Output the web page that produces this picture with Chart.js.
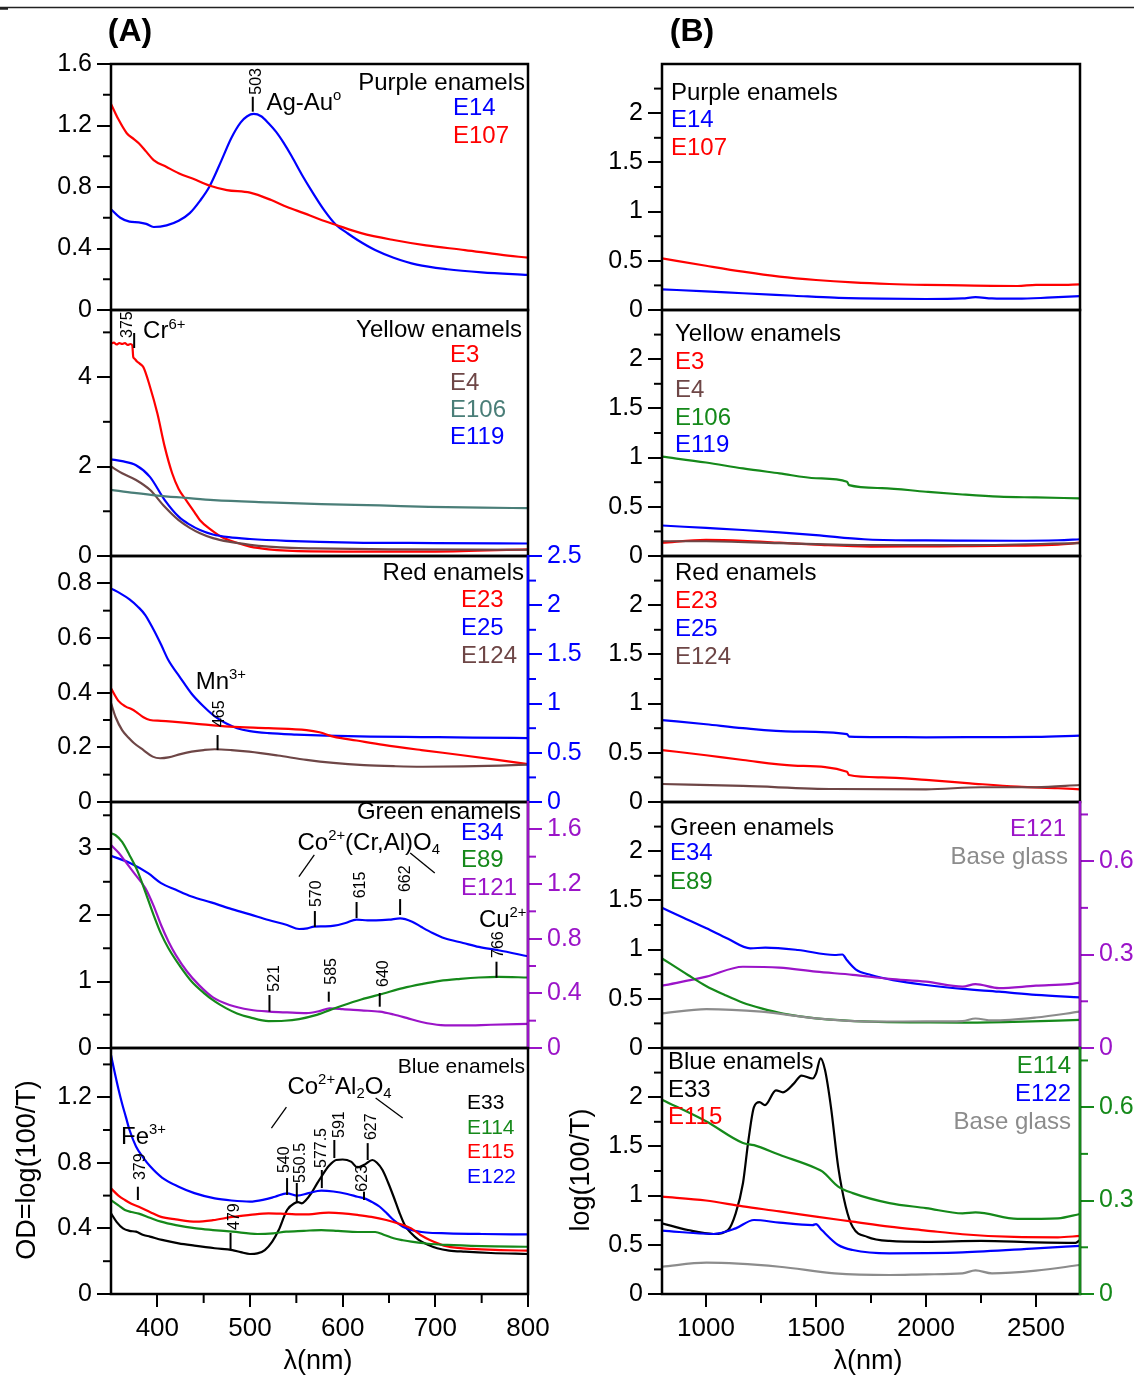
<!DOCTYPE html>
<html><head><meta charset="utf-8">
<script src="https://cdn.jsdelivr.net/npm/chart.js@4.4.0/dist/chart.umd.min.js"></script>
<style>
html,body{margin:0;padding:0;background:#fff;}
body{width:1134px;height:1376px;overflow:hidden;position:relative;}
canvas{position:absolute;}
</style></head><body>
<script>
// ================= DATA =================
// ---- Column A (UV-Vis, 350-800 nm) ----
const A_X_TICKS = [400,500,600,700,800];
const A_X_LABELS = ['400','500','600','700','800'];
const A_X_MINOR = [450,550,650,750];
// Purple
const A1_E14_nm = [350,360,370,380,388,396,410,423,435,446,456,469,480,490,497,504,512,520,528,536,545,556,566,580,593,605,616,635,655,680,713,750,800];
const A1_E14 = [0.655,0.6,0.575,0.57,0.56,0.54,0.55,0.58,0.63,0.71,0.8,0.97,1.12,1.22,1.26,1.275,1.26,1.215,1.16,1.09,1.0,0.88,0.78,0.65,0.553,0.5,0.455,0.39,0.34,0.295,0.265,0.245,0.228];
const A1_E107_nm = [350,358,367,375,380,388,396,410,423,440,456,475,500,523,540,558,575,593,620,655,690,732,770,800];
const A1_E107 = [1.34,1.24,1.15,1.11,1.085,1.03,0.975,0.93,0.89,0.85,0.81,0.78,0.763,0.715,0.67,0.63,0.59,0.553,0.5,0.455,0.42,0.39,0.36,0.34];
// Yellow
const A2_E3_nm = [350,353,356,359,362,365,368,371,373,374,375,378,381,385,392,400,408,416,423,431,440,446,457,469,485,500,520,540,600,700,800];
const A2_E3 = [4.75,4.77,4.73,4.76,4.74,4.76,4.72,4.74,4.71,4.45,4.42,4.35,4.3,4.22,3.79,3.19,2.44,1.85,1.5,1.25,0.98,0.8,0.6,0.43,0.3,0.21,0.15,0.12,0.1,0.1,0.15];
const A2_E4_nm = [350,362,377,392,408,423,435,446,460,477,500,520,545,570,650,800];
const A2_E4 = [2.0,1.85,1.7,1.48,1.1,0.8,0.63,0.51,0.4,0.32,0.25,0.21,0.18,0.17,0.15,0.14];
const A2_E106_nm = [350,375,400,430,461,520,577,640,693,750,800];
const A2_E106 = [1.48,1.41,1.35,1.3,1.25,1.2,1.16,1.13,1.1,1.08,1.07];
const A2_E119_nm = [350,362,377,392,408,423,435,446,460,477,500,539,611,700,800];
const A2_E119 = [2.16,2.12,2.03,1.77,1.25,0.88,0.7,0.58,0.48,0.42,0.38,0.34,0.3,0.29,0.28];
// Red
const A3_E23_nm = [350,358,366,372,377,385,392,404,416,440,478,520,561,575,590,615,644,685,727,765,800];
const A3_E23 = [0.416,0.37,0.349,0.34,0.33,0.31,0.3,0.297,0.294,0.287,0.276,0.27,0.263,0.255,0.239,0.225,0.209,0.19,0.172,0.155,0.139];
const A3_E25_nm = [350,360,370,379,387,396,404,412,425,437,450,462,474,486,500,520,550,582,630,685,740,800];
const A3_E25 = [2.17,2.12,2.06,1.985,1.9,1.75,1.6,1.44,1.26,1.1,0.97,0.87,0.8,0.75,0.72,0.7,0.685,0.674,0.665,0.66,0.655,0.65];
const A3_E124_nm = [350,355,362,369,375,385,395,403,412,425,437,450,462,480,499,530,561,590,623,655,685,730,770,800];
const A3_E124 = [0.362,0.31,0.263,0.235,0.215,0.19,0.166,0.16,0.163,0.175,0.184,0.19,0.193,0.19,0.184,0.17,0.154,0.143,0.135,0.131,0.129,0.13,0.133,0.137];
// Green
const A4_E34_nm = [350,371,390,404,420,437,458,478,500,520,540,553,562,569,580,591,603,615,627,636,650,662,675,685,697,710,730,747,768,800];
const A4_E34 = [2.89,2.78,2.63,2.48,2.38,2.28,2.19,2.1,2.01,1.925,1.85,1.79,1.8,1.825,1.83,1.84,1.88,1.93,1.92,1.92,1.93,1.95,1.9,1.82,1.73,1.65,1.58,1.52,1.47,1.38];
const A4_E89_nm = [350,355,362,370,379,387,396,404,412,425,437,450,462,474,486,500,520,537,553,570,586,600,620,644,665,685,705,727,747,768,800];
const A4_E89 = [3.23,3.2,3.1,2.9,2.65,2.35,2.0,1.72,1.5,1.22,1.0,0.83,0.7,0.6,0.52,0.46,0.405,0.41,0.435,0.49,0.57,0.64,0.73,0.82,0.9,0.96,1.01,1.04,1.06,1.07,1.06];
const A4_E121_nm = [350,358,366,376,387,396,404,412,420,432,445,460,478,500,521,540,561,575,586,600,620,640,655,669,685,706,730,760,800];
const A4_E121 = [1.485,1.43,1.36,1.27,1.17,1.04,0.9,0.78,0.68,0.56,0.46,0.37,0.315,0.28,0.266,0.26,0.255,0.27,0.29,0.285,0.275,0.266,0.245,0.22,0.19,0.168,0.165,0.17,0.176];
// Blue
const A5_E33_nm = [350,356,363,370,377,385,392,405,423,440,462,481,490,500,508,516,524,531,540,548,552,556,560,566,572,577,585,593,600,609,616,624,632,637,643,649,655,661,667,674,682,692,702,715,732,760,800];
const A5_E33 = [0.492,0.44,0.4,0.385,0.38,0.36,0.35,0.33,0.309,0.295,0.279,0.268,0.255,0.244,0.248,0.268,0.32,0.39,0.512,0.553,0.56,0.553,0.57,0.614,0.67,0.715,0.78,0.817,0.82,0.807,0.772,0.79,0.817,0.8,0.756,0.68,0.593,0.5,0.42,0.37,0.33,0.3,0.279,0.265,0.258,0.25,0.244];
const A5_E114_nm = [350,358,365,372,380,392,404,420,442,460,481,508,525,539,558,577,595,616,635,645,655,665,674,690,713,750,800];
const A5_E114 = [0.573,0.54,0.512,0.5,0.49,0.465,0.441,0.42,0.4,0.39,0.38,0.366,0.37,0.38,0.385,0.39,0.385,0.378,0.378,0.36,0.34,0.328,0.319,0.308,0.299,0.292,0.288];
const A5_E115_nm = [350,358,365,372,380,392,404,420,442,460,481,500,520,540,558,585,600,616,631,647,660,674,684,694,713,740,770,800];
const A5_E115 = [0.644,0.6,0.573,0.55,0.532,0.5,0.47,0.455,0.441,0.45,0.47,0.482,0.492,0.488,0.485,0.496,0.492,0.482,0.47,0.451,0.43,0.4,0.36,0.33,0.29,0.275,0.268,0.264];
const A5_E122_nm = [350,354,358,362,366,370,377,385,392,405,423,440,462,480,500,515,527,540,551,563,577,590,605,616,625,632,640,648,655,665,674,690,713,750,800];
const A5_E122 = [1.457,1.35,1.25,1.16,1.08,1.0,0.9,0.83,0.78,0.71,0.654,0.615,0.583,0.57,0.563,0.575,0.593,0.614,0.6,0.615,0.63,0.625,0.61,0.593,0.58,0.56,0.532,0.49,0.451,0.41,0.39,0.375,0.37,0.366,0.363];

// ---- Column B (NIR, 800-2700 nm) ----
const B_X_TICKS = [1000,1500,2000,2500];
const B_X_LABELS = ['1000','1500','2000','2500'];
const B_X_MINOR = [1250,1750,2250];
const B1_E14_nm = [800,1000,1168,1400,1584,1800,2000,2166,2225,2300,2416,2550,2700];
const B1_E14 = [0.21,0.19,0.17,0.145,0.125,0.115,0.112,0.118,0.13,0.118,0.115,0.125,0.142];
const B1_E107_nm = [800,1000,1168,1334,1500,1667,1833,2000,2166,2300,2416,2500,2600,2700];
const B1_E107 = [0.525,0.45,0.39,0.34,0.305,0.28,0.264,0.255,0.25,0.245,0.244,0.256,0.255,0.26];
const B2_E3_nm = [800,1000,1168,1334,1500,1750,2000,2166,2400,2600,2700];
const B2_E3 = [0.135,0.163,0.155,0.135,0.115,0.095,0.098,0.1,0.105,0.115,0.135];
const B2_E4_nm = [800,1000,1334,1750,2166,2700];
const B2_E4 = [0.15,0.15,0.13,0.11,0.11,0.13];
const B2_E106_nm = [800,1000,1168,1334,1500,1641,1650,1800,2000,2166,2332,2500,2700];
const B2_E106 = [1.01,0.95,0.89,0.84,0.79,0.755,0.72,0.69,0.653,0.625,0.603,0.595,0.586];
const B2_E119_nm = [800,1000,1168,1334,1500,1718,2000,2166,2400,2600,2700];
const B2_E119 = [0.31,0.285,0.264,0.24,0.213,0.17,0.158,0.156,0.155,0.16,0.17];
const B3_E23_nm = [800,1000,1168,1400,1641,1650,1800,2000,2200,2416,2600,2700];
const B3_E23 = [0.528,0.475,0.427,0.37,0.308,0.274,0.25,0.224,0.19,0.156,0.14,0.129];
const B3_E25_nm = [800,1000,1168,1400,1641,1650,1800,2000,2300,2500,2700];
const B3_E25 = [0.833,0.79,0.75,0.715,0.69,0.665,0.66,0.657,0.66,0.662,0.674];
const B3_E124_nm = [800,1168,1584,2000,2250,2500,2700];
const B3_E124 = [0.183,0.163,0.132,0.129,0.15,0.15,0.173];
const B4_E34_nm = [800,900,1002,1100,1201,1270,1418,1584,1620,1640,1680,1750,1850,2000,2166,2332,2500,2700];
const B4_E34 = [1.426,1.32,1.216,1.11,1.013,1.02,0.996,0.945,0.95,0.894,0.8,0.742,0.69,0.64,0.6,0.572,0.54,0.515];
const B4_E89_nm = [800,918,1000,1085,1168,1252,1350,1500,1750,2000,2166,2400,2700];
const B4_E89 = [0.911,0.742,0.63,0.539,0.46,0.403,0.35,0.302,0.268,0.26,0.257,0.265,0.285];
const B4_E121_nm = [800,1002,1168,1334,1500,1667,1833,2000,2166,2225,2332,2500,2650,2700];
const B4_E121 = [0.2,0.229,0.261,0.258,0.245,0.235,0.222,0.213,0.197,0.205,0.192,0.2,0.205,0.21];
const B4_BASE_nm = [800,1002,1252,1500,1750,2000,2166,2225,2300,2500,2700];
const B4_BASE = [0.352,0.396,0.369,0.302,0.268,0.27,0.274,0.3,0.28,0.31,0.369];
const B5_E33_nm = [800,918,1035,1100,1135,1168,1193,1218,1243,1268,1318,1350,1400,1434,1484,1500,1521,1541,1568,1601,1635,1667,1734,1834,2000,2250,2500,2680,2700];
const B5_E33 = [0.718,0.65,0.61,0.65,0.82,1.125,1.565,1.9,1.95,1.92,2.07,2.05,2.14,2.22,2.19,2.24,2.395,2.276,1.9,1.29,0.89,0.68,0.58,0.539,0.53,0.539,0.525,0.52,0.55];
const B5_E114_nm = [800,1002,1168,1218,1334,1500,1530,1601,1667,1834,2000,2166,2225,2416,2600,2700];
const B5_E114 = [0.624,0.554,0.485,0.478,0.447,0.404,0.393,0.345,0.324,0.292,0.276,0.259,0.262,0.241,0.243,0.257];
const B5_E115_nm = [800,1000,1168,1334,1500,1667,1834,2000,2166,2400,2600,2700];
const B5_E115 = [0.99,0.95,0.89,0.84,0.786,0.735,0.684,0.645,0.607,0.58,0.576,0.59];
const B5_E122_nm = [800,1035,1135,1218,1334,1484,1500,1526,1601,1667,1834,2000,2166,2500,2700];
const B5_E122 = [0.644,0.61,0.667,0.752,0.725,0.7,0.71,0.65,0.498,0.447,0.413,0.415,0.423,0.464,0.49];
const B5_BASE_nm = [800,1002,1334,1584,1834,2000,2166,2225,2300,2500,2700];
const B5_BASE = [0.277,0.318,0.277,0.21,0.193,0.2,0.21,0.24,0.21,0.237,0.295];

// ---- y-axis ticks ----
const A1_Y = [0,0.4,0.8,1.2,1.6], A1_YL = ['0','0.4','0.8','1.2','1.6'], A1_YM = [0.2,0.6,1.0,1.4];
const A2_Y = [0,2,4], A2_YL = ['0','2','4'], A2_YM = [1,3,5];
const A3_Y = [0,0.2,0.4,0.6,0.8], A3_YL = ['0','0.2','0.4','0.6','0.8'], A3_YM = [0.1,0.3,0.5,0.7];
const A3_Y2 = [0,0.5,1,1.5,2,2.5], A3_Y2L = ['0','0.5','1','1.5','2','2.5'], A3_Y2M = [0.25,0.75,1.25,1.75,2.25];
const A4_Y = [0,1,2,3], A4_YL = ['0','1','2','3'], A4_YM = [0.5,1.5,2.5,3.5];
const A4_Y2 = [0,0.4,0.8,1.2,1.6], A4_Y2L = ['0','0.4','0.8','1.2','1.6'], A4_Y2M = [0.2,0.6,1.0,1.4];
const A5_Y = [0,0.4,0.8,1.2], A5_YL = ['0','0.4','0.8','1.2'], A5_YM = [0.2,0.6,1.0,1.4];
const B_Y = [0,0.5,1,1.5,2], B_YL = ['0','0.5','1','1.5','2'], B_YM = [0.25,0.75,1.25,1.75,2.25];
const B_Y2 = [0,0.3,0.6], B_Y2L = ['0','0.3','0.6'], B_Y2M = [0.15,0.45,0.75];

// ================= COLOURS / LAYOUT =================
const RED='#ff0000', BLUE='#0000ff', GREEN='#15891a', PURPLE='#9b14c8', BROWN='#6e4646', TEAL='#4a7e78', GREY='#8c8c8c', BLACK='#000000';
const FONT = '"Liberation Sans", Arial, Helvetica, sans-serif';
Chart.defaults.font.family = FONT;
Chart.defaults.color = '#000';
const COLA = {l:111, w:417}, COLB = {l:662, w:418};
const ROWS = [64,310,556,802,1048], RH = 246;
const PADX = 120, PADT = 24, YW = 70, XH = 70, PADBX = 90;
const YFONT = 25;

function richParts(s){
  const parts=[]; const re=/(\^|_)\{([^}]*)\}/g; let last=0,m;
  while((m=re.exec(s))){ if(m.index>last) parts.push({t:s.slice(last,m.index),k:0}); parts.push({t:m[2],k:m[1]==='^'?1:-1}); last=re.lastIndex; }
  if(last<s.length) parts.push({t:s.slice(last),k:0});
  return parts;
}
function drawRich(ctx,s,x,y,size,color,align){
  const parts=richParts(s); let w=0;
  parts.forEach(p=>{ p.sz=p.k?size*0.62:size; ctx.font=p.sz+'px '+FONT; p.w=ctx.measureText(p.t).width; w+=p.w; });
  let cx = align==='right'? x-w : (align==='center'? x-w/2 : x);
  ctx.fillStyle=color; ctx.textBaseline='middle'; ctx.textAlign='left';
  parts.forEach(p=>{ ctx.font=p.sz+'px '+FONT; const dy = p.k===1? -size*0.3 : (p.k===-1? size*0.3 : 0); ctx.fillText(p.t,cx,y+dy); cx+=p.w; });
}
function seg(ctx,x1,y1,x2,y2){ ctx.beginPath(); ctx.moveTo(x1,y1); ctx.lineTo(x2,y2); ctx.stroke(); }

function makePlugin(p, ox, oy){
  return { id:'panelDeco', afterDraw(chart){
    const ctx=chart.ctx, ca=chart.chartArea, xs=chart.scales.x, ys=chart.scales.y, y2=chart.scales.y2;
    ctx.save(); ctx.lineCap='butt';
    ctx.lineWidth=2; ctx.strokeStyle='#000';
    p.y.minor.forEach(v=>{ const py=ys.getPixelForValue(v); seg(ctx,ca.left-8,py,ca.left,py); });
    if(p.y2){ ctx.strokeStyle=p.y2.color; p.y2.minor.forEach(v=>{ const py=y2.getPixelForValue(v); seg(ctx,ca.right,py,ca.right+8,py); }); }
    if(p.xAxis){ ctx.strokeStyle='#000'; p.xAxis.minor.forEach(v=>{ const px=xs.getPixelForValue(v); seg(ctx,px,ca.bottom,px,ca.bottom+9); }); }
    ctx.lineWidth=2.5; ctx.strokeStyle='#000'; ctx.strokeRect(ca.left,ca.top,ca.width,ca.height);
    if(p.y2){ ctx.strokeStyle=p.y2.color; seg(ctx,ca.right,ca.top-1,ca.right,ca.bottom+1); }
    ctx.lineWidth=1.3; ctx.strokeStyle='#000';
    (p.lines||[]).forEach(l=>seg(ctx,xs.getPixelForValue(l[0]),ys.getPixelForValue(l[1]),xs.getPixelForValue(l[2]),ys.getPixelForValue(l[3])));
    (p.peaks||[]).forEach(k=>{
      const px=xs.getPixelForValue(k.lam), a=ys.getPixelForValue(k.v1), b=ys.getPixelForValue(k.v2);
      ctx.lineWidth=2; ctx.strokeStyle='#000'; seg(ctx,px,a,px,b);
      ctx.save(); ctx.translate(px+k.dx,b-k.gap); ctx.rotate(-Math.PI/2);
      ctx.font='16px '+FONT; ctx.fillStyle='#000'; ctx.textAlign='left'; ctx.textBaseline='middle';
      ctx.fillText(k.text,0,0); ctx.restore();
    });
    (p.notes||[]).forEach(n=>drawRich(ctx,n.text,xs.getPixelForValue(n.lam),ys.getPixelForValue(n.v),24,'#000',n.align||'left'));
    (p.legend||[]).forEach(t=>drawRich(ctx,t.text,t.x-ox,t.y-oy,t.size||24,t.color||'#000',t.align||'left'));
    ctx.restore();
  }};
}

function makePanel(p){
  const hasX=!!p.xAxis;
  const W=p.col.w+2*PADX, H=RH+PADT+(hasX?PADBX:PADT);
  const ox=p.col.l-PADX, oy=ROWS[p.row]-PADT;
  const cv=document.createElement('canvas');
  cv.width=W; cv.height=H;
  cv.style.left=ox+'px'; cv.style.top=oy+'px'; cv.style.width=W+'px'; cv.style.height=H+'px';
  document.body.appendChild(cv);
  const scales={
    x:{ type:'linear', position:'bottom', min:p.xmin, max:p.xmax, display:hasX,
      afterBuildTicks:s=>{ if(hasX) s.ticks=p.xAxis.ticks.map(v=>({value:v})); },
      afterFit:s=>{ if(hasX) s.height=XH; },
      ticks:{ autoSkip:false, maxRotation:0, minRotation:0, padding:6, font:{size:26}, color:'#000', callback:(v,i)=> hasX? p.xAxis.labels[i] : '' },
      grid:{ drawOnChartArea:false, drawTicks:true, tickLength:13, tickWidth:2, lineWidth:2, tickColor:'#000', color:'#000' },
      border:{ display:false } },
    y:{ type:'linear', position:'left', min:0, max:p.y.max,
      afterBuildTicks:s=>{ s.ticks=p.y.ticks.map(v=>({value:v})); },
      afterFit:s=>{ s.width=YW; },
      ticks:{ autoSkip:false, padding:5, font:{size:YFONT}, color:'#000', callback:(v,i)=>p.y.labels[i] },
      grid:{ drawOnChartArea:false, drawTicks:true, tickLength:14, tickWidth:2, lineWidth:2, tickColor:'#000', color:'#000' },
      border:{ display:false } }
  };
  if(p.y2){
    scales.y2={ type:'linear', position:'right', min:0, max:p.y2.max,
      afterBuildTicks:s=>{ s.ticks=p.y2.ticks.map(v=>({value:v})); },
      afterFit:s=>{ s.width=YW; },
      ticks:{ autoSkip:false, padding:5, font:{size:YFONT}, color:p.y2.color, callback:(v,i)=>p.y2.labels[i] },
      grid:{ drawOnChartArea:false, drawTicks:true, tickLength:14, tickWidth:2, lineWidth:2, tickColor:p.y2.color, color:p.y2.color },
      border:{ display:false } };
  }
  const datasets=p.series.map(s=>({
    data:s.x.map((xv,i)=>({x:xv,y:s.y[i]})),
    borderColor:s.color, borderWidth:s.w||2.2, pointRadius:0, fill:false,
    yAxisID:s.axis||'y', cubicInterpolationMode:'monotone'
  }));
  new Chart(cv,{ type:'line', data:{datasets},
    options:{ responsive:false, animation:false, devicePixelRatio:1, events:[],
      layout:{ padding:{ left:PADX-YW, right:p.y2?PADX-YW:PADX, top:PADT, bottom:hasX?PADBX-XH:PADT } },
      plugins:{ legend:{display:false}, tooltip:{enabled:false} },
      scales },
    plugins:[makePlugin(p,ox,oy)] });
}

// ================= PANELS =================
const AX = {ticks:A_X_TICKS, labels:A_X_LABELS, minor:A_X_MINOR};
const BX = {ticks:B_X_TICKS, labels:B_X_LABELS, minor:B_X_MINOR};

makePanel({ col:COLA, row:0, xmin:350, xmax:800,
  y:{max:1.6, ticks:A1_Y, labels:A1_YL, minor:A1_YM},
  series:[ {x:A1_E107_nm,y:A1_E107,color:RED}, {x:A1_E14_nm,y:A1_E14,color:BLUE} ],
  peaks:[ {lam:503,v1:1.29,v2:1.387,text:'503',dx:4,gap:2} ],
  notes:[ {lam:517.7,v:1.346,text:'Ag-Au^{o}'} ],
  legend:[ {text:'Purple enamels',x:525,y:83,align:'right'}, {text:'E14',x:453,y:108,color:BLUE}, {text:'E107',x:453,y:136,color:RED} ] });

makePanel({ col:COLA, row:1, xmin:350, xmax:800,
  y:{max:5.5, ticks:A2_Y, labels:A2_YL, minor:A2_YM},
  series:[ {x:A2_E106_nm,y:A2_E106,color:TEAL}, {x:A2_E4_nm,y:A2_E4,color:BROWN}, {x:A2_E119_nm,y:A2_E119,color:BLUE}, {x:A2_E3_nm,y:A2_E3,color:RED} ],
  peaks:[ {lam:375,v1:4.65,v2:4.986,text:'375',dx:-7,gap:-5} ],
  notes:[ {lam:384.6,v:5.015,text:'Cr^{6+}'} ],
  legend:[ {text:'Yellow enamels',x:522,y:330,align:'right'}, {text:'E3',x:450,y:355,color:RED}, {text:'E4',x:450,y:383,color:BROWN}, {text:'E106',x:450,y:410,color:TEAL}, {text:'E119',x:450,y:437,color:BLUE} ] });

makePanel({ col:COLA, row:2, xmin:350, xmax:800,
  y:{max:0.9, ticks:A3_Y, labels:A3_YL, minor:A3_YM},
  y2:{max:2.5, ticks:A3_Y2, labels:A3_Y2L, minor:A3_Y2M, color:BLUE},
  series:[ {x:A3_E124_nm,y:A3_E124,color:BROWN}, {x:A3_E23_nm,y:A3_E23,color:RED}, {x:A3_E25_nm,y:A3_E25,color:BLUE,axis:'y2'} ],
  peaks:[ {lam:465,v1:0.19,v2:0.245,text:'465',dx:2,gap:8} ],
  notes:[ {lam:468.5,v:0.439,text:'Mn^{3+}',align:'center'} ],
  legend:[ {text:'Red enamels',x:524,y:573,align:'right'}, {text:'E23',x:461,y:600,color:RED}, {text:'E25',x:461,y:628,color:BLUE}, {text:'E124',x:461,y:656,color:BROWN} ] });

makePanel({ col:COLA, row:3, xmin:350, xmax:800,
  y:{max:3.7, ticks:A4_Y, labels:A4_YL, minor:A4_YM},
  y2:{max:1.8, ticks:A4_Y2, labels:A4_Y2L, minor:A4_Y2M, color:PURPLE},
  series:[ {x:A4_E89_nm,y:A4_E89,color:GREEN}, {x:A4_E121_nm,y:A4_E121,color:PURPLE,axis:'y2'}, {x:A4_E34_nm,y:A4_E34,color:BLUE} ],
  peaks:[ {lam:570,v1:1.82,v2:2.06,text:'570',dx:1.5,gap:4}, {lam:615,v1:1.955,v2:2.196,text:'615',dx:3.7,gap:3.7},
          {lam:662,v1:2.0,v2:2.24,text:'662',dx:5,gap:7}, {lam:766,v1:1.057,v2:1.298,text:'766',dx:2,gap:3.7},
          {lam:521,v1:0.546,v2:0.797,text:'521',dx:5,gap:3.3}, {lam:585,v1:0.696,v2:0.847,text:'585',dx:3,gap:7},
          {lam:640,v1:0.621,v2:0.827,text:'640',dx:4,gap:6} ],
  lines:[ [552.8,2.576,569.4,2.903], [672.9,2.933,699.4,2.632] ],
  notes:[ {lam:551.2,v:3.083,text:'Co^{2+}(Cr,Al)O_{4}'}, {lam:747,v:1.925,text:'Cu^{2+}'} ],
  legend:[ {text:'Green enamels',x:521,y:812,align:'right'}, {text:'E34',x:461,y:833,color:BLUE}, {text:'E89',x:461,y:860,color:GREEN}, {text:'E121',x:461,y:888,color:PURPLE} ] });

makePanel({ col:COLA, row:4, xmin:350, xmax:800, xAxis:AX,
  y:{max:1.5, ticks:A5_Y, labels:A5_YL, minor:A5_YM},
  series:[ {x:A5_E114_nm,y:A5_E114,color:GREEN}, {x:A5_E115_nm,y:A5_E115,color:RED}, {x:A5_E122_nm,y:A5_E122,color:BLUE}, {x:A5_E33_nm,y:A5_E33,color:BLACK} ],
  peaks:[ {lam:379,v1:0.573,v2:0.654,text:'379',dx:3,gap:6.7}, {lam:479,v1:0.268,v2:0.372,text:'479',dx:4,gap:3},
          {lam:540,v1:0.604,v2:0.707,text:'540',dx:-2,gap:5}, {lam:550.5,v1:0.555,v2:0.677,text:'550.5',dx:4,gap:0},
          {lam:577.5,v1:0.646,v2:0.756,text:'577.5',dx:0,gap:2}, {lam:591,v1:0.829,v2:0.939,text:'591',dx:5,gap:2},
          {lam:623,v1:0.573,v2:0.624,text:'623',dx:-1,gap:0}, {lam:627,v1:0.817,v2:0.92,text:'627',dx:4,gap:3} ],
  lines:[ [523.1,1.012,539.3,1.14], [635.6,1.195,664.8,1.073] ],
  notes:[ {lam:540.4,v:1.262,text:'Co^{2+}Al_{2}O_{4}'}, {lam:360.8,v:0.957,text:'Fe^{3+}'} ],
  legend:[ {text:'Blue enamels',x:525,y:1067,align:'right',size:21}, {text:'E33',x:467,y:1103,size:21}, {text:'E114',x:467,y:1128,color:GREEN,size:21}, {text:'E115',x:467,y:1152,color:RED,size:21}, {text:'E122',x:467,y:1177,color:BLUE,size:21} ] });

makePanel({ col:COLB, row:0, xmin:800, xmax:2700,
  y:{max:2.5, ticks:B_Y, labels:B_YL, minor:B_YM},
  series:[ {x:B1_E107_nm,y:B1_E107,color:RED}, {x:B1_E14_nm,y:B1_E14,color:BLUE} ],
  legend:[ {text:'Purple enamels',x:671,y:93}, {text:'E14',x:671,y:120,color:BLUE}, {text:'E107',x:671,y:148,color:RED} ] });

makePanel({ col:COLB, row:1, xmin:800, xmax:2700,
  y:{max:2.5, ticks:B_Y, labels:B_YL, minor:B_YM},
  series:[ {x:B2_E106_nm,y:B2_E106,color:GREEN}, {x:B2_E119_nm,y:B2_E119,color:BLUE}, {x:B2_E4_nm,y:B2_E4,color:BROWN}, {x:B2_E3_nm,y:B2_E3,color:RED} ],
  legend:[ {text:'Yellow enamels',x:675,y:334}, {text:'E3',x:675,y:362,color:RED}, {text:'E4',x:675,y:390,color:BROWN}, {text:'E106',x:675,y:418,color:GREEN}, {text:'E119',x:675,y:445,color:BLUE} ] });

makePanel({ col:COLB, row:2, xmin:800, xmax:2700,
  y:{max:2.5, ticks:B_Y, labels:B_YL, minor:B_YM},
  series:[ {x:B3_E124_nm,y:B3_E124,color:BROWN}, {x:B3_E23_nm,y:B3_E23,color:RED}, {x:B3_E25_nm,y:B3_E25,color:BLUE} ],
  legend:[ {text:'Red enamels',x:675,y:573}, {text:'E23',x:675,y:601,color:RED}, {text:'E25',x:675,y:629,color:BLUE}, {text:'E124',x:675,y:657,color:BROWN} ] });

makePanel({ col:COLB, row:3, xmin:800, xmax:2700,
  y:{max:2.5, ticks:B_Y, labels:B_YL, minor:B_YM},
  y2:{max:0.79, ticks:B_Y2, labels:B_Y2L, minor:B_Y2M, color:PURPLE},
  series:[ {x:B4_BASE_nm,y:B4_BASE,color:GREY}, {x:B4_E89_nm,y:B4_E89,color:GREEN}, {x:B4_E121_nm,y:B4_E121,color:PURPLE,axis:'y2'}, {x:B4_E34_nm,y:B4_E34,color:BLUE} ],
  legend:[ {text:'Green enamels',x:670,y:828}, {text:'E34',x:670,y:853,color:BLUE}, {text:'E89',x:670,y:882,color:GREEN},
           {text:'E121',x:1066,y:829,color:PURPLE,align:'right'}, {text:'Base glass',x:1068,y:857,color:GREY,align:'right'} ] });

makePanel({ col:COLB, row:4, xmin:800, xmax:2700, xAxis:BX,
  y:{max:2.5, ticks:B_Y, labels:B_YL, minor:B_YM},
  y2:{max:0.79, ticks:B_Y2, labels:B_Y2L, minor:B_Y2M, color:GREEN},
  series:[ {x:B5_BASE_nm,y:B5_BASE,color:GREY}, {x:B5_E114_nm,y:B5_E114,color:GREEN,axis:'y2'}, {x:B5_E115_nm,y:B5_E115,color:RED}, {x:B5_E122_nm,y:B5_E122,color:BLUE}, {x:B5_E33_nm,y:B5_E33,color:BLACK} ],
  legend:[ {text:'Blue enamels',x:668,y:1062}, {text:'E33',x:668,y:1090}, {text:'E115',x:668,y:1117,color:RED},
           {text:'E114',x:1071,y:1066,color:GREEN,align:'right'}, {text:'E122',x:1071,y:1094,color:BLUE,align:'right'}, {text:'Base glass',x:1071,y:1122,color:GREY,align:'right'} ] });

// ================= PAGE-LEVEL TEXT =================
(function(){
  const cv=document.createElement('canvas'); cv.width=1134; cv.height=1376;
  cv.style.left='0px'; cv.style.top='0px'; cv.style.width='1134px'; cv.style.height='1376px'; cv.style.zIndex=10; cv.style.pointerEvents='none';
  document.body.appendChild(cv);
  const ctx=cv.getContext('2d');
  ctx.strokeStyle='#222'; ctx.lineWidth=1.5; seg(ctx,0,7.5,1134,7.5);
  ctx.lineWidth=2.5; seg(ctx,0,8.5,8,8.5);
  ctx.fillStyle='#000'; ctx.textBaseline='middle'; ctx.textAlign='center';
  ctx.font='bold 32px '+FONT; ctx.fillText('(A)',130,32); ctx.fillText('(B)',692,32);
  ctx.font='27px '+FONT; ctx.fillText('λ(nm)',318,1362); ctx.fillText('λ(nm)',868,1362);
  ctx.save(); ctx.translate(28,1170); ctx.rotate(-Math.PI/2); ctx.fillText('OD=log(100/T)',0,0); ctx.restore();
  ctx.save(); ctx.translate(582,1170); ctx.rotate(-Math.PI/2); ctx.fillText('log(100/T)',0,0); ctx.restore();
})();
</script>
</body></html>
